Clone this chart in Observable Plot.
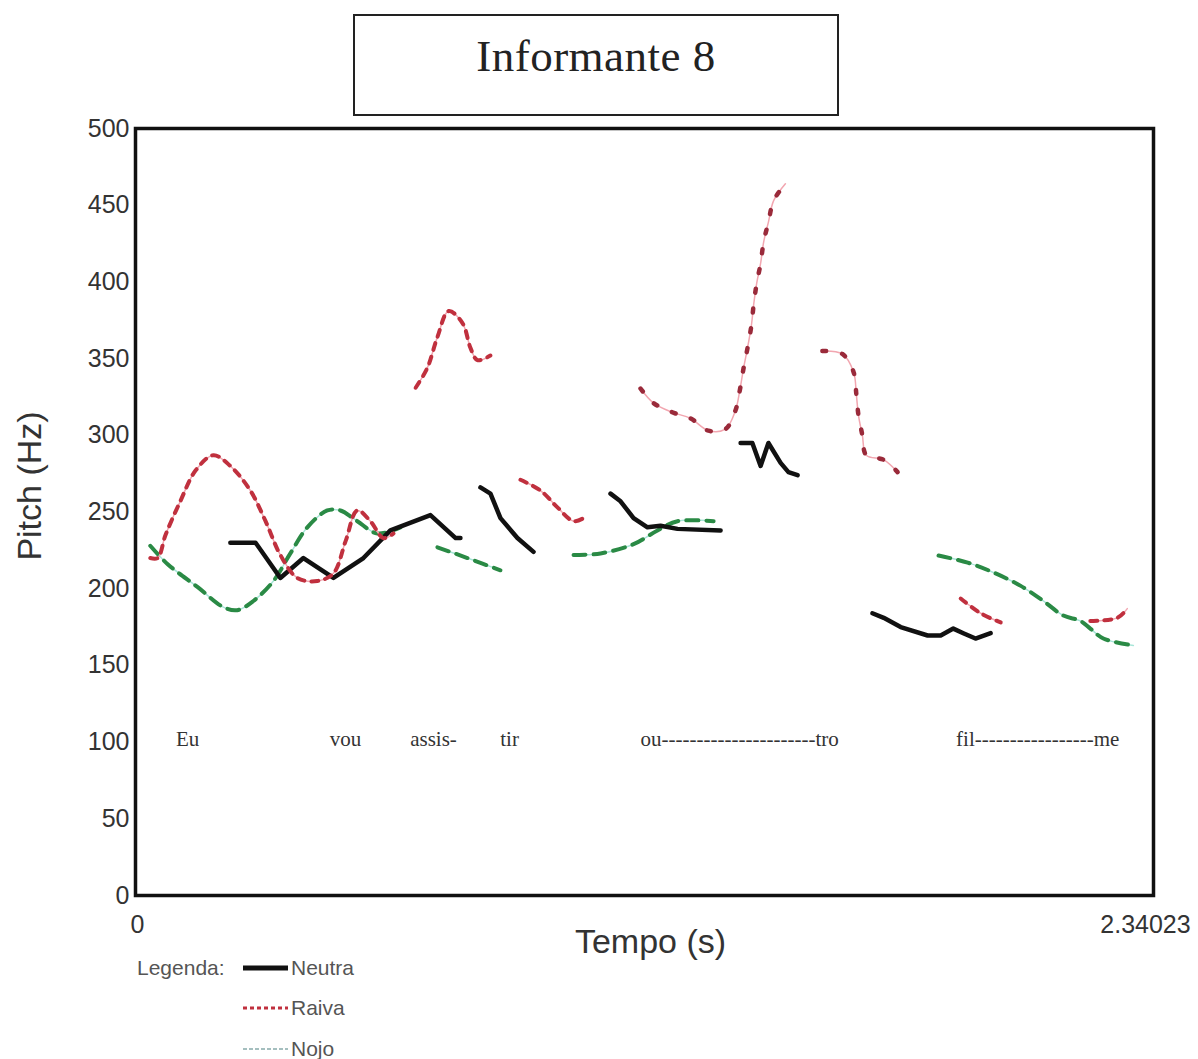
<!DOCTYPE html>
<html>
<head>
<meta charset="utf-8">
<script src="https://cdn.jsdelivr.net/npm/d3@7"></script>
<script src="https://cdn.jsdelivr.net/npm/@observablehq/plot@0.6"></script>
<style>
  html, body { margin: 0; padding: 0; background: #fff; }
  #wrap { position: relative; width: 1198px; height: 950px; }
  #chart { position: absolute; left: 0; top: 0; }
  #title { position: absolute; left: 353px; top: 14px; width: 482px; height: 98px;
           border: 2px solid #222; background: #fff; box-sizing: content-box;
           font-family: "Liberation Serif", "Times New Roman", serif; font-size: 45px;
           color: #222; text-align: center; line-height: 80px; letter-spacing: 0.5px; }
  #legend { position: relative; width: 1198px; height: 109px; font-family: "Liberation Sans", Arial, sans-serif;
            font-size: 21px; color: #555; }
  #legend .lab { position: absolute; left: 137px; top: 6px; }
  #legend .row { position: absolute; left: 243px; height: 24px; display: flex; align-items: center; }
  #legend .row span { margin-left: 3px; }
</style>
</head>
<body>
<div id="wrap">
  <div id="chart"></div>
  <div id="title">Informante 8</div>
</div>
<div id="legend"></div>
<script>
// ---- data (time in s, pitch in Hz) ----
const xTicks = [0, 2.34023];
const yTicks = [0, 50, 100, 150, 200, 250, 300, 350, 400, 450, 500];

const neutraSegs = [
  [[0.218,230],[0.276,230],[0.333,207],[0.386,220],[0.455,207],[0.524,220],[0.586,238],[0.678,248],[0.736,233],[0.747,233]],
  [[0.793,266],[0.816,262],[0.839,246],[0.878,233],[0.915,224]],
  [[1.092,262],[1.115,257],[1.145,246],[1.177,240],[1.207,241],[1.246,239],[1.345,238]],
  [[1.391,295],[1.418,295],[1.437,280],[1.455,295],[1.483,282],[1.501,276],[1.522,274]],
  [[1.694,184],[1.720,181],[1.759,175],[1.821,169.5],[1.851,169.5],[1.880,174],[1.903,171],[1.931,167.5],[1.966,171]]
];

const raivaSegs = [
  [[0.034,220],[0.051,220],[0.069,235],[0.103,257],[0.138,277],[0.179,287],[0.218,280],[0.264,264],[0.299,244],[0.333,222],[0.372,207],[0.418,205],[0.455,210],[0.483,231],[0.510,251],[0.540,244],[0.570,233],[0.593,236]],
  [[0.644,331],[0.671,344],[0.694,364],[0.720,381],[0.752,373],[0.770,357],[0.786,349],[0.816,352]],
  [[0.885,271],[0.931,264],[0.970,253],[1.007,244],[1.030,246]],
  [[1.161,330.5],[1.191,321],[1.234,315],[1.276,311],[1.317,303],[1.356,304],[1.379,316],[1.389,329],[1.398,344],[1.407,357],[1.416,372],[1.421,385],[1.428,399],[1.437,412],[1.444,426],[1.455,439],[1.467,453],[1.494,464]],
  [[1.579,355],[1.625,353],[1.651,341],[1.657,327],[1.662,313],[1.671,300],[1.680,287],[1.720,284],[1.752,276]],
  [[1.897,193.6],[1.943,184],[1.989,178]],
  [[2.195,179],[2.257,181],[2.280,187]]
];
const raivaDotted = [3, 4];

const nojoSegs = [
  [[0.034,228],[0.074,216],[0.143,201],[0.202,188],[0.234,186],[0.271,192],[0.317,205],[0.356,223],[0.395,240],[0.441,251],[0.471,251],[0.510,244],[0.556,236],[0.609,240]],
  [[0.694,227],[0.763,220],[0.839,212]],
  [[1.007,222],[1.069,223],[1.145,229],[1.200,238],[1.246,244],[1.329,244]],
  [[1.846,221.6],[1.913,217],[1.972,210.6],[2.034,202],[2.087,192],[2.133,182.5],[2.172,179],[2.195,174],[2.225,167.5],[2.294,163]]
];

const syllableText = ["Eu", "vou", "assis-", "tir", "ou----------------------tro", "fil-----------------me"];
const syllableTime = [0.120, 0.483, 0.685, 0.860, 1.389, 2.074];
const syllableHz = 102;

// ---- build tables ----
const toRows = segs => segs.flatMap((s, i) => s.map(([t, f]) => ({t, f, seg: i})));
const neutra = toRows(neutraSegs);
const raiva = toRows(raivaSegs);
const nojo = toRows(nojoSegs);
const syllables = syllableText.map((s, i) => ({s, t: syllableTime[i], f: syllableHz}));

const chart = Plot.plot({
  width: 1198,
  height: 975,
  marginLeft: 135,
  marginRight: 45,
  marginTop: 128,
  marginBottom: 80,
  style: {fontFamily: "Liberation Sans, Arial, sans-serif", color: "#333", background: "transparent"},
  x: {domain: [0, 2.34023], axis: null},
  y: {domain: [0, 500], axis: null},
  marks: [
    Plot.axisY(yTicks, {tickSize: 0, tickPadding: 6, fontSize: 25, label: null, fill: "#333"}),
    Plot.text([xTicks[0]], {x: d => d, frameAnchor: "bottom", lineAnchor: "middle", textAnchor: "middle", dy: 29, dx: 2, text: d => String(d), fontSize: 25, fill: "#333"}),
    Plot.text([xTicks[1]], {x: d => d, frameAnchor: "bottom", lineAnchor: "middle", textAnchor: "middle", dy: 29, dx: -8, text: d => String(d), fontSize: 25, fill: "#333"}),
    Plot.text(["Pitch (Hz)"], {frameAnchor: "left", textAnchor: "middle", lineAnchor: "middle", dx: -105, dy: -26, rotate: -90, fontSize: 34, fill: "#333"}),
    Plot.text(["Tempo (s)"], {frameAnchor: "bottom", textAnchor: "middle", lineAnchor: "middle", dy: 47, dx: 6, fontSize: 34, fill: "#333"}),
    Plot.text(syllables, {x: "t", y: "f", text: "s", fontSize: 21, fill: "#333",
      fontFamily: "Liberation Serif, Times New Roman, serif"}),
    // Nojo
    Plot.line(nojo, {x: "t", y: "f", z: "seg", stroke: "#a8e6d8", strokeWidth: 1.5, curve: "catmull-rom"}),
    Plot.line(nojo, {x: "t", y: "f", z: "seg", stroke: "#2a8a45", strokeWidth: 4, strokeDasharray: "12,8", curve: "catmull-rom"}),
    // Neutra
    Plot.line(neutra, {x: "t", y: "f", z: "seg", stroke: "#111", strokeWidth: 4.5, strokeLinejoin: "round", strokeLinecap: "round"}),
    // Raiva
    Plot.line(raiva, {x: "t", y: "f", z: "seg", stroke: "#f2a6b0", strokeWidth: 1.5, curve: "catmull-rom"}),
    Plot.line(raiva.filter(d => !raivaDotted.includes(d.seg)), {x: "t", y: "f", z: "seg", stroke: "#c0303e", strokeWidth: 4, strokeDasharray: "7,7", curve: "catmull-rom"}),
    Plot.line(raiva.filter(d => raivaDotted.includes(d.seg)), {x: "t", y: "f", z: "seg", stroke: "#9a2a3a", strokeWidth: 4.5, strokeDasharray: "4,16", strokeLinecap: "round", curve: "catmull-rom"}),
    Plot.frame({stroke: "#111", strokeWidth: 3.5})
  ]
});
document.getElementById("chart").appendChild(chart);

// ---- legend ----
const legendItems = [
  {name: "Neutra", stroke: "#111", width: 5, dash: null, top: 6},
  {name: "Raiva", stroke: "#c0303e", width: 3, dash: "4,3", top: 46},
  {name: "Nojo", stroke: "#8aa", width: 1.5, dash: "4,2", top: 87}
];
const legend = document.getElementById("legend");
const lab = document.createElement("div");
lab.className = "lab"; lab.textContent = "Legenda:";
legend.appendChild(lab);
for (const it of legendItems) {
  const row = document.createElement("div");
  row.className = "row";
  row.style.top = it.top + "px";
  const ns = "http://www.w3.org/2000/svg";
  const s = document.createElementNS(ns, "svg");
  s.setAttribute("width", 45); s.setAttribute("height", 24);
  const l = document.createElementNS(ns, "line");
  l.setAttribute("x1", 0); l.setAttribute("x2", 45); l.setAttribute("y1", 12); l.setAttribute("y2", 12);
  l.setAttribute("stroke", it.stroke); l.setAttribute("stroke-width", it.width);
  if (it.dash) l.setAttribute("stroke-dasharray", it.dash);
  s.appendChild(l);
  row.appendChild(s);
  const t = document.createElement("span");
  t.textContent = it.name;
  row.appendChild(t);
  legend.appendChild(row);
}
</script>
</body>
</html>
